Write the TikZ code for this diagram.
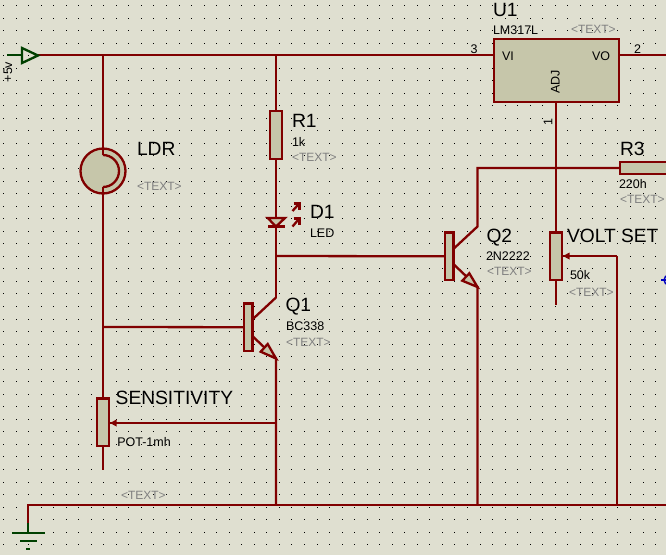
\documentclass[tikz,border=0pt]{standalone}
\usepackage{fontspec}
\setmainfont{Liberation Sans}
\usetikzlibrary{calc}
\definecolor{sheet}{HTML}{DFDFD0}
\definecolor{wirered}{HTML}{800000}
\definecolor{bodyfill}{HTML}{C6C6AA}
\definecolor{gndgreen}{HTML}{004000}
\definecolor{hintgrey}{HTML}{808080}
\definecolor{pinblue}{HTML}{0000C0}
\tikzset{
  x=1pt,y=-1pt,
  wire/.style={draw=wirered,line width=2.3pt,line join=miter},
  body/.style={draw=wirered,fill=bodyfill,line width=2.3pt,rectangle,inner sep=0pt,outer sep=0pt},
  big/.style={anchor=base west,inner sep=0pt,outer sep=0pt,font=\fontsize{19.2}{19.2}\selectfont,text=black},
  small/.style={anchor=base west,inner sep=0pt,outer sep=0pt,font=\fontsize{12.5}{12.5}\selectfont,text=black},
  hint/.style={anchor=base west,inner sep=0pt,outer sep=0pt,font=\fontsize{12}{12}\selectfont,text=hintgrey},
  rot/.style={anchor=center,inner sep=0pt,outer sep=0pt,rotate=90,font=\fontsize{12.5}{12.5}\selectfont,text=black},
  green wire/.style={draw=gndgreen,line width=2.3pt},
}
\begin{document}
\begin{tikzpicture}
\useasboundingbox (0,0) rectangle (666,555);
\clip (0,0) rectangle (666,555);
\fill[sheet] (0,0) rectangle (666,555);
% grid
\foreach \i in {0,...,53}{\foreach \j in {0,...,44}{
  \fill[black] ({3+12.54*\i},{5+12.54*\j}) rectangle ++(1,1);
}}
% named points
\coordinate (vcc) at (38,55);
\coordinate (vccin) at (7,55);
\coordinate (jldr) at (103,55);
\coordinate (jr1) at (276,55);
\coordinate (pin3) at (494,55);
\coordinate (pin2) at (619,55);
\coordinate (rightvo) at (666,55);
\coordinate (pin1) at (556,102);
\coordinate (gndtop) at (28,505);
\coordinate (gndjoin) at (28,523);
\coordinate (gndbar) at (28,533);
\coordinate (busend) at (666,505);
\coordinate (jq1base) at (103,327);
\coordinate (jq2base) at (276,256);
\coordinate (q1c) at (276,297.5);
\coordinate (q1e) at (276,358.5);
\coordinate (q2c) at (477.5,226.5);
\coordinate (q2t) at (477.5,168);
\coordinate (q2e) at (477.5,287);
\coordinate (potend) at (103,470);
\coordinate (setend) at (556,305);
\coordinate (wip1) at (276,423);
\coordinate (wip2) at (617,256);
\coordinate (ledtop) at (276,218);
\coordinate (ledbot) at (276,226.5);
% body nodes
\node[body,minimum width=125.5pt,minimum height=63pt] (u1) at (556.5,70.5) {};
\node[body,minimum width=12.5pt,minimum height=48.5pt] (r1) at (276,135) {};
\node[body,minimum width=60pt,minimum height=12.5pt,anchor=west] (r3) at (620,168) {};
\node[body,minimum width=12.5pt,minimum height=47.5pt] (pot) at (103,422.2) {};
\node[body,minimum width=12.5pt,minimum height=47.5pt] (setp) at (556,256.3) {};
\node[body,minimum width=8.3pt,minimum height=47.5pt] (q1) at (248.2,327.2) {};
\node[body,minimum width=8.3pt,minimum height=47.5pt] (q2) at (449.2,256.3) {};
\node[body,circle,minimum size=45pt] (ldr) at (103,171) {};
% wires
\draw[wire] (vcc) -- (pin3);
\draw[wire] (pin2) -- (rightvo);
\draw[wire] (jldr) -- (103,155);
\draw[wire] (103,187) -- (pot.north);
\draw[wire] (pot.south) -- (potend);
\draw[wire] (jr1) -- (r1.north);
\draw[wire] (r1.south) -- (ledtop);
\draw[wire] (ledbot) -- (q1c);
\draw[wire] (jq2base) -- (q2.west);
\draw[wire] (jq1base) -- (q1.west);
\draw[wire] (q1c) -- (q1.east |- 0,319.5);
\draw[wire] (q1.east |- 0,336) -- (q1e) -- (276,505);
\draw[wire] (pin1) -- (setp.north);
\draw[wire] (setp.south) -- (setend);
\draw[wire] (r3.west) -- (q2t) -- (q2c) -- (q2.east |- 0,249);
\draw[wire] (q2.east |- 0,264) -- (q2e) -- (477.5,505);
\draw[wire] (gndjoin) -- (gndtop) -- (busend);
\draw[wire] (wip1) -- (pot.east |- wip1);
\draw[wire] (wip2) -- (setp.east |- wip2);
\draw[wire] (wip2) -- (617,505);
% wiper heads
\fill[wirered] (110,423) -- (116.5,419.5) -- (116.5,426.5) -- cycle;
\fill[wirered] (563,256) -- (569.5,252.5) -- (569.5,259.5) -- cycle;
% LDR inner
\draw[wire] (103,155) arc[start angle=90,end angle=-90,radius=16pt];
% transistor arrows
\draw[body] (276,358.5) -- (267.7,344) -- (260.7,351.7) -- cycle;
\draw[body] (477.5,287) -- (469.3,273.3) -- (462.3,280.7) -- cycle;
% LED
\draw[body] (267.7,218) -- (285,218) -- (276,226.5) -- cycle;
\draw[wire] (268,226.5) -- (284.5,226.5);
\draw[wire] (292.5,211) -- (299.3,203.5);
\draw[wire] (293.5,203.5) -- (299.5,203.5) -- (299.5,209.5);
\draw[wire] (292.5,226.5) -- (299.3,218.5);
\draw[wire] (293.5,218.5) -- (299.5,218.5) -- (299.5,224.5);
% supply and ground
\draw[green wire] (vccin) -- (22,55);
\draw[green wire] (22,48) -- (38,55.5) -- (22,63) -- cycle;
\draw[green wire] (gndjoin) -- (gndbar);
\draw[green wire] (12,533) -- (45,533);
\draw[green wire] (20,541) -- (37,541);
\draw[green wire] (26,549) -- (30,549);
% blue pin mark
\draw[pinblue,line width=1.4pt] (661,280) -- (666,280);
\draw[pinblue,line width=1.4pt] (669,280) circle[radius=5pt];
% texts
\node[rot] (vcclabel) at (8,72) {+5v};
\node[big] (ldrname) at (137,155.7) {LDR};
\node[hint] (ldrhint) at (137,190.5) {<TEXT>};
\node[big] (r1name) at (292,127.7) {R1};
\node[small] (r1val) at (292,146) {1k};
\node[hint] (r1hint) at (292,161) {<TEXT>};
\node[big] (d1name) at (310,218) {D1};
\node[small] (d1val) at (310,237.3) {LED};
\node[big] (q1name) at (285.5,311) {Q1};
\node[small] (q1val) at (286,330.7) {BC338};
\node[hint] (q1hint) at (286,346) {<TEXT>};
\node[big] (q2name) at (486.5,242.7) {Q2};
\node[small] (q2val) at (486,260) {2N2222};
\node[hint] (q2hint) at (487,275) {<TEXT>};
\node[big] (setname) at (567,242.7) {VOLT SET};
\node[small] (setval) at (570,279) {50k};
\node[hint] (sethint) at (569,296) {<TEXT>};
\node[big] (r3name) at (620,155) {R3};
\node[small] (r3val) at (619,188) {220h};
\node[hint] (r3hint) at (620,203) {<TEXT>};
\node[big] (u1name) at (493,16.7) {U1};
\node[small] (u1val) at (493,34.7) {LM317L};
\node[hint] (u1hint) at (571,33) {<TEXT>};
\node[small] (vilabel) at (502,60) {VI};
\node[small] (volabel) at (592,60) {VO};
\node[rot] (adjlabel) at (555.5,82) {ADJ};
\node[small] (pinthree) at (470.7,53) {3};
\node[small] (pintwo) at (634,53) {2};
\node[rot] (pinone) at (548,122) {1};
\node[big] (potname) at (115.7,404.3) {SENSITIVITY};
\node[small] (potval) at (117.3,446.7) {POT-1mh};
\node[hint] (pothint) at (121,499.3) {<TEXT>};
\end{tikzpicture}
\end{document}
